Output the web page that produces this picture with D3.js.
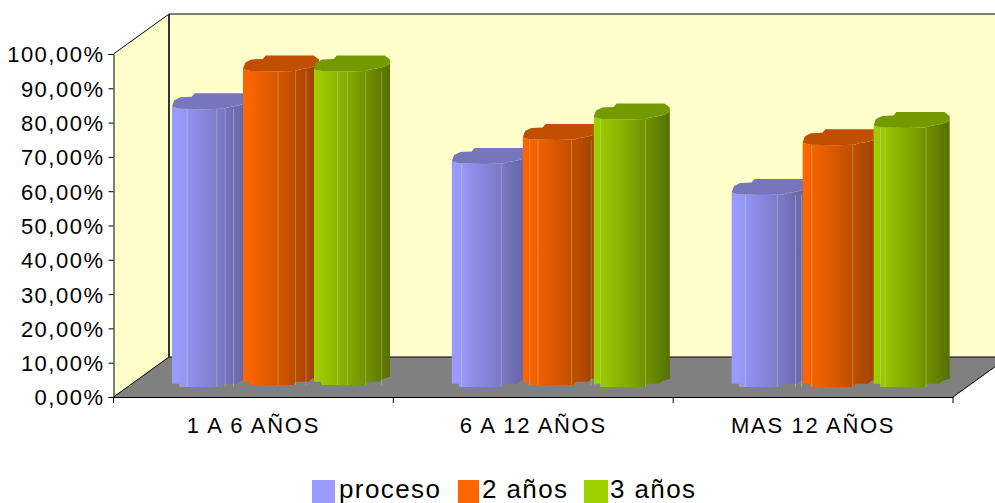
<!DOCTYPE html>
<html>
<head>
<meta charset="utf-8">
<script src="https://cdn.jsdelivr.net/npm/d3@7/dist/d3.min.js"></script>
<style>
html,body{margin:0;padding:0;background:#fff;overflow:hidden}
svg{display:block}
text{font-family:"Liberation Sans",Arial,sans-serif;fill:#000}
</style>
</head>
<body>
<svg id="chart" width="995" height="503"></svg>
<script>
// Chart data
const categories = ["1 A 6 AÑOS", "6 A 12 AÑOS", "MAS 12 AÑOS"];
const seriesNames = ["proceso", "2 años", "3 años"];
const proceso = [81, 65, 56];
const dosAnios = [92, 72, 70.5];
const tresAnios = [92, 78, 75.5];
const yTicks = [0, 10, 20, 30, 40, 50, 60, 70, 80, 90, 100];
const seriesValues = [proceso, dosAnios, tresAnios];

// Series palette: lit side, shaded side, top cap
const litColors = ["#9c9cff", "#ff6600", "#9fd000"];
const shadeColors = ["#6262a0", "#984000", "#557000"];
const capColors = ["#7676bd", "#c04f00", "#739a00"];

// Plot box in the front plane, and the receding depth of the 3D box
const W = 995, H = 503;
const box = {left: 113.5, right: 953, top: 54, bottom: 397};
const depth = {dx: 55.5, dy: -40};

const svg = d3.select("#chart").attr("viewBox", [0, 0, W, H]);
const x = d3.scaleBand().domain(categories).range([box.left, box.right]);
const y = d3.scaleLinear().domain([0, 100]).range([box.bottom, box.top]);

const barWidth = 76, barStep = 71, barInset = 58.5, barLift = 10;
const barX = d3.scaleLinear().domain([0, 1]).range([barInset, barInset + barStep]);

// Walls and floor
const line = d3.line();
const fr = box.left, br = box.left + depth.dx;
const backTop = box.top + depth.dy, backBottom = box.bottom + depth.dy;
const floorEdgeY = backBottom + (box.right + depth.dx - W) * (-depth.dy / depth.dx);
svg.append("path")
  .attr("d", line([[fr, box.top], [br, backTop], [W, backTop], [W, backBottom], [br, backBottom], [fr, box.bottom]]) + "Z")
  .attr("fill", "#ffffcc");
svg.append("path")
  .attr("d", line([[fr, box.bottom], [br, backBottom], [W, backBottom], [W, floorEdgeY], [box.right, box.bottom]]) + "Z")
  .attr("fill", "#808080");

const strokes = [
  [[fr, box.top], [br, backTop]],
  [[br, backTop], [W, backTop]],
  [[fr, box.bottom], [br, backBottom]],
  [[br, backBottom], [W, backBottom]],
  [[box.right, box.bottom], [W, floorEdgeY]]
];
svg.append("g").selectAll("path").data(strokes).join("path")
  .attr("d", line).attr("fill", "none").attr("stroke", "#000").attr("stroke-width", 1);
svg.append("path").attr("d", line([[br, backTop], [br, backBottom]]))
  .attr("stroke", "#333").attr("stroke-width", 2).attr("fill", "none");

// Horizontal gradient per series, with the banding of a polygonal cylinder
const defs = svg.append("defs");
const gradientStops = [0, .06, .2, .32, .44, .56, .68, .8, .9, 1];
seriesNames.forEach((name, i) => {
  const mix = d3.interpolateRgb(litColors[i], shadeColors[i]);
  defs.append("linearGradient").attr("id", "cyl" + i)
    .selectAll("stop").data(gradientStops).join("stop")
    .attr("offset", d => d)
    .attr("stop-color", d => mix(d < .06 ? 0 : Math.pow(d, 1.15)));
});

// Stepped outline of the cylinder: fraction across the bar, offset from its front low point
const rimFront = [[0, -3], [.02, -2], [.1, -.5], [.44, 0], [.68, -.5], [.74, -2], [.86, -3.5], [.95, -5.5], [1, -8]];
const rimBack = [[1, -12], [.93, -16], [.3, -16], [.26, -12.5], [.11, -12], [.03, -9], [0, -3]];
const baseEdge = [[1, -8], [.9, -6], [.86, -3.3], [.7, -3.3], [.66, 0], [.1, 0], [.09, -3.3], [0, -3.3]];

// Light seams between the facets, as fractions of the bar width
const seams = [
  [[.2, .59, .7, .81], [.46, .69, .83], [.31, .44, .68, .89]],
  [[.13, .65], [.09, .2, .64, .9, .95], [.09, .68]],
  [[.18, .6, .84, .92], [.12, .66], [.09, .15, .69]]
];
// Small upward shift of the foot of each cylinder
const footShift = [[0, 2, 2], [0, 2, 0], [0, 0, 0]];

categories.forEach((cat, g) => {
  const group = svg.append("g").attr("transform", `translate(${x(cat)},0)`);
  seriesValues.forEach((values, s) => {
    const left = barX(s);
    const topY = y(values[g]) - barLift;
    const baseY = y(0) - barLift - footShift[g][s];
    const px = ([t, d], yy) => [left + t * barWidth, yy + d];
    const body = [...rimFront.map(p => px(p, topY)), ...baseEdge.map(p => px(p, baseY))];
    group.append("path").attr("d", line(body) + "Z").attr("fill", `url(#cyl${s})`);
    seams[g][s].forEach(t => {
      const sx = left + t * barWidth;
      group.append("line")
        .attr("x1", sx).attr("x2", sx)
        .attr("y1", topY).attr("y2", baseY)
        .attr("stroke", "#fff").attr("stroke-opacity", .25).attr("stroke-width", 1);
    });
    const cap = [...rimFront.map(p => px(p, topY)), ...rimBack.map(p => px(p, topY))];
    group.append("path").attr("d", line(cap) + "Z").attr("fill", capColors[s]);
  });
});

// Front axes drawn over the floor
const axisLeft = d3.axisLeft(y).tickValues(yTicks).tickSize(5).tickPadding(4)
  .tickFormat(d => d3.format(".2f")(d).replace(".", ",") + "%");
const gy = svg.append("g").attr("transform", `translate(${box.left},0)`).call(axisLeft);
gy.selectAll("text").attr("font-size", 22).attr("letter-spacing", 1.5)
  .style("font-family", '"Liberation Sans",Arial,sans-serif').attr("dy", "0.36em");
gy.selectAll("path,line").attr("stroke", "#000");

const axisBottom = d3.axisBottom(x).tickSize(0).tickSizeOuter(0).tickPadding(20);
const gx = svg.append("g").attr("transform", `translate(0,${box.bottom})`).call(axisBottom);
gx.selectAll("text").attr("font-size", 22).attr("letter-spacing", 1.7)
  .style("font-family", '"Liberation Sans",Arial,sans-serif');
gx.selectAll("path").attr("stroke", "#000");
gx.selectAll("line.edge").data([...categories.map(c => x(c)), box.right]).join("line")
  .attr("class", "edge").attr("x1", d => d).attr("x2", d => d).attr("y1", 0).attr("y2", 6).attr("stroke", "#000");

// Legend
const legendAt = [{sw: 312, tx: 339, w: 23}, {sw: 458, tx: 482, w: 21}, {sw: 584, tx: 610, w: 24}];
const legend = svg.append("g").selectAll("g").data(seriesNames).join("g");
legend.append("rect").attr("x", (d, i) => legendAt[i].sw).attr("y", 480)
  .attr("width", (d, i) => legendAt[i].w).attr("height", 23).attr("fill", (d, i) => litColors[i]);
legend.append("text").attr("x", (d, i) => legendAt[i].tx).attr("y", 498)
  .attr("font-size", 26).attr("letter-spacing", 1.4).text(d => d);
</script>
</body>
</html>
